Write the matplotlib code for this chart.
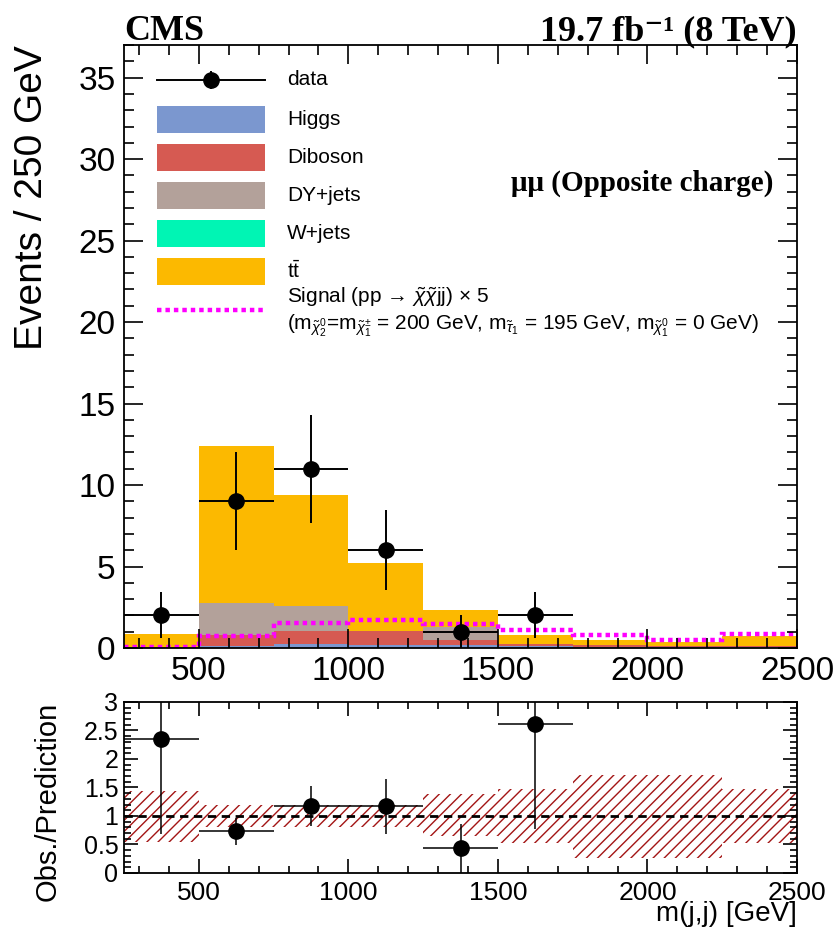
import numpy as np
import matplotlib
matplotlib.use('Agg')
import matplotlib.pyplot as plt
from matplotlib.ticker import MultipleLocator, FuncFormatter
from matplotlib.patches import Rectangle
from matplotlib.lines import Line2D

plt.rcParams['font.family'] = ['Liberation Sans', 'DejaVu Sans']
plt.rcParams['mathtext.fontset'] = 'custom'
plt.rcParams['mathtext.rm'] = 'Liberation Sans'
plt.rcParams['mathtext.it'] = 'Liberation Sans:italic'
plt.rcParams['mathtext.bf'] = 'Liberation Sans:bold'
plt.rcParams['hatch.linewidth'] = 1.0

# binning: m(j,j) in 250 GeV bins
edges = np.arange(250, 2501, 250)

# stacked backgrounds (bottom to top)
higgs = [0.03, 0.14, 0.24, 0.20, 0.20, 0.10, 0.08, 0.06, 0.06]
diboson = [0.02, 0.68, 0.82, 0.84, 0.30, 0.12, 0.12, 0.06, 0.06]
dyjets = [0.01, 1.94, 1.49, 0.01, 0.77, 0.01, 0.01, 0.01, 0.01]
wjets = [0.0, 0.0, 0.0, 0.0, 0.0, 0.0, 0.0, 0.0, 0.0]
ttbar = [0.82, 9.64, 6.85, 4.19, 1.06, 0.55, 0.26, 0.22, 0.58]
signal = [0.05, 0.76, 1.53, 1.73, 1.49, 1.10, 0.78, 0.51, 0.88]

# data (only non-empty bins are drawn)
data_x = [375, 625, 875, 1125, 1375, 1625]
data_y = [2, 9, 11, 6, 1, 2]
data_err = [1.41, 3.0, 3.32, 2.45, 1.0, 1.41]

# ratio panel
ratio_y = [2.35, 0.73, 1.17, 1.17, 0.43, 2.62]
ratio_err = [1.66, 0.24, 0.35, 0.48, 0.43, 1.85]
band_hi = [1.43, 1.20, 1.19, 1.19, 1.38, 1.47, 1.72, 1.72, 1.47]
band_lo = [0.55, 0.81, 0.81, 0.81, 0.64, 0.52, 0.27, 0.27, 0.52]

components = [('Higgs', higgs, '#7b97cf'),
              ('Diboson', diboson, '#d65a52'),
              ('DY+jets', dyjets, '#b3a19a'),
              ('W+jets', wjets, '#00f5b4'),
              (r't$\bar{\mathrm{t}}$', ttbar, '#fcb900')]

fig = plt.figure(figsize=(8.35, 9.3), dpi=100)
ax = fig.add_axes([0.1485, 0.3032, 0.806, 0.6484])
axr = fig.add_axes([0.1485, 0.0613, 0.806, 0.184])

base = np.zeros(len(higgs))
for name, vals, col in components:
    top = base + np.array(vals)
    ax.stairs(top, edges, baseline=base.copy(), fill=True, color=col, lw=0)
    base = top

ax.stairs(signal, edges, baseline=None, color='#ff00ff', lw=3.2,
          linestyle=(0, (1.0, 0.9)))

ax.errorbar(data_x, data_y, xerr=125, yerr=data_err, fmt='o', color='black',
            ms=11, lw=1.4, capsize=0, zorder=5)

ax.set_xlim(250, 2500)
ax.set_ylim(0, 37)
ax.xaxis.set_major_locator(MultipleLocator(500))
ax.xaxis.set_minor_locator(MultipleLocator(100))
ax.yaxis.set_major_locator(MultipleLocator(5))
ax.yaxis.set_minor_locator(MultipleLocator(1))
ax.tick_params(which='both', direction='in', top=True, right=True, width=1.2)
ax.tick_params(which='major', length=14, labelsize=24, pad=6)
ax.tick_params(which='minor', length=7)
for s in ax.spines.values():
    s.set_linewidth(1.3)
ax.set_ylabel('Events / 250 GeV', fontsize=28, loc='top')
ax.yaxis.set_label_coords(-0.11, 1.0)

# CMS labels
ax.text(0.0, 1.008, 'CMS', transform=ax.transAxes, fontsize=26,
        fontweight='bold', family=['Liberation Serif', 'DejaVu Serif'],
        ha='left', va='baseline')
ax.text(1.0, 1.008, '19.7 fb\u207b\u00b9 (8 TeV)', transform=ax.transAxes,
        fontsize=26, fontweight='bold', family=['Liberation Serif', 'DejaVu Serif'],
        ha='right', va='baseline')
ax.text(0.575, 0.771, 'μμ (Opposite charge)', transform=ax.transAxes,
        fontsize=21, fontweight='bold', family=['Liberation Serif', 'DejaVu Serif'],
        ha='left', va='center')

# legend drawn by hand (ROOT-like layout)
x0, x1, xt = 0.049, 0.2095, 0.242
bh = 0.045
ax.add_line(Line2D([x0, x1], [0.942, 0.942], color='black', lw=1.4,
                   transform=ax.transAxes))
ax.add_line(Line2D([(x0 + x1) / 2] * 2, [0.928, 0.956], color='black', lw=1.4,
                   transform=ax.transAxes))
ax.plot([(x0 + x1) / 2], [0.942], 'o', color='black', ms=11,
        transform=ax.transAxes, clip_on=False)
ax.text(xt, 0.942, 'data', transform=ax.transAxes, fontsize=15, va='center')
ys = [0.877, 0.814, 0.750, 0.688, 0.625]
for (name, vals, col), yy in zip(components, ys):
    ax.add_patch(Rectangle((x0, yy - bh / 2), x1 - x0, bh, color=col,
                           transform=ax.transAxes, lw=0))
    ax.text(xt, yy, name, transform=ax.transAxes, fontsize=15, va='center')
ax.add_line(Line2D([x0, x1], [0.5605, 0.5605], color='#ff00ff', lw=3.2,
                   linestyle=(0, (1.0, 0.9)), transform=ax.transAxes))
ax.text(xt, 0.582, 'Signal (pp \u2192 $\\tilde{\\chi}\\tilde{\\chi}$jj) \u00d7 5',
        transform=ax.transAxes, fontsize=15, va='center')
ax.text(xt, 0.534,
        r'(m$_{\tilde{\chi}^{0}_{2}}$=m$_{\tilde{\chi}^{\pm}_{1}}$ = 200 GeV, '
        r'm$_{\tilde{\tau}_{1}}$ = 195 GeV, m$_{\tilde{\chi}^{0}_{1}}$ = 0 GeV)',
        transform=ax.transAxes, fontsize=15, va='center')

# ratio panel
axr.stairs(band_hi, edges, baseline=band_lo, fill=True, facecolor='none',
           edgecolor='#a31515', hatch='///', lw=0)
axr.axhline(1.0, color='black', lw=2, linestyle=(0, (3, 2)))
axr.errorbar(data_x, ratio_y, xerr=125, yerr=ratio_err, fmt='o', color='black',
             ms=11, lw=1.1, capsize=0, zorder=5)
axr.set_xlim(250, 2500)
axr.set_ylim(0, 3)
axr.xaxis.set_major_locator(MultipleLocator(500))
axr.xaxis.set_minor_locator(MultipleLocator(100))
axr.yaxis.set_major_locator(MultipleLocator(0.5))
axr.yaxis.set_minor_locator(MultipleLocator(0.1))
axr.yaxis.set_major_formatter(FuncFormatter(lambda v, p: '%g' % v))
axr.tick_params(which='both', direction='in', top=True, right=True, width=1.2)
axr.tick_params(axis='x', which='major', length=10, labelsize=19, pad=6)
axr.tick_params(axis='y', which='major', length=10, labelsize=18, pad=4)
axr.tick_params(which='minor', length=5)
for s in axr.spines.values():
    s.set_linewidth(1.3)
axr.set_ylabel('Obs./Prediction', fontsize=21, loc='top')
axr.yaxis.set_label_coords(-0.092, 1.0)
axr.set_xlabel('m(j,j) [GeV]', fontsize=20, loc='right')
axr.xaxis.set_label_coords(1.0, -0.165)

fig.savefig('out.png', dpi=100)
